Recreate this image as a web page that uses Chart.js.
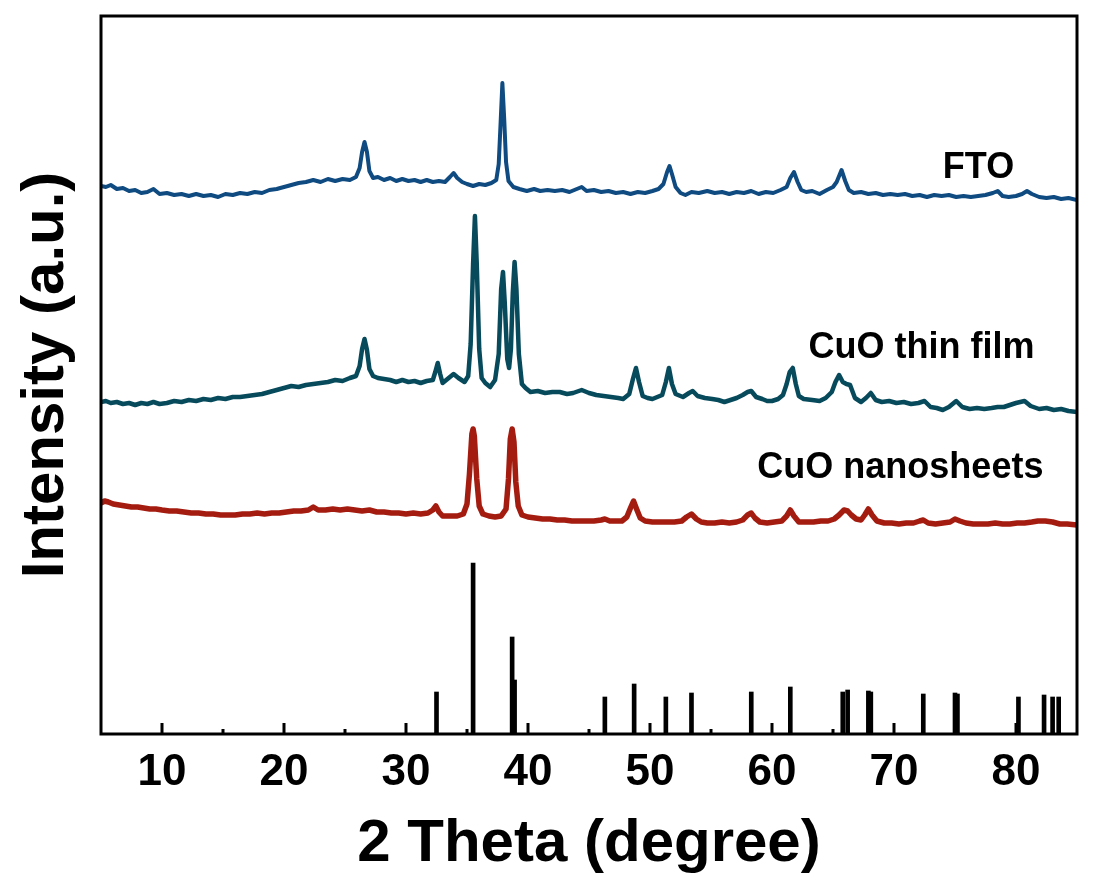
<!DOCTYPE html>
<html>
<head>
<meta charset="utf-8">
<script src="https://cdn.jsdelivr.net/npm/chart.js@4/dist/chart.umd.min.js"></script>
<style>
  html, body { margin: 0; padding: 0; background: #fff; }
  #xrdChart { display: block; }
</style>
</head>
<body>
<canvas id="xrdChart" width="1096" height="886"></canvas>
<script>
// values (2 theta in degree, intensity in a.u., curves already stacked)
const ftoTheta = [5.0,5.4,5.8,6.3,6.8,7.3,7.8,8.3,8.8,9.3,9.8,10.4,11.0,11.6,12.2,12.8,13.4,14.0,14.6,15.2,15.8,16.4,17.0,17.6,18.2,18.8,19.4,20.0,20.6,21.2,21.8,22.4,23.0,23.6,24.2,24.8,25.4,25.9,26.2,26.4,26.6,26.8,27.0,27.3,27.7,28.2,28.7,29.2,29.7,30.2,30.7,31.2,31.7,32.2,32.7,33.2,33.6,33.9,34.2,34.6,35.0,35.5,36.0,36.5,37.0,37.4,37.6,37.75,37.9,38.05,38.2,38.4,38.8,39.3,39.9,40.5,41.0,41.6,42.2,42.8,43.4,44.0,44.4,44.8,45.4,46.0,46.6,47.2,47.8,48.4,49.0,49.6,50.2,50.7,51.1,51.4,51.6,51.8,52.1,52.5,52.9,53.4,54.0,54.7,55.3,55.9,56.5,57.1,57.7,58.3,58.9,59.5,60.1,60.7,61.2,61.5,61.8,62.1,62.4,62.8,63.3,63.9,64.5,65.0,65.3,65.7,66.0,66.3,66.7,67.3,67.9,68.5,69.1,69.7,70.3,70.9,71.5,72.1,72.7,73.3,73.9,74.5,75.1,75.7,76.3,76.9,77.5,78.1,78.5,78.9,79.4,80.0,80.5,80.9,81.3,81.9,82.5,83.1,83.7,84.3,85.0];
const ftoCounts = [548,547,549,545,546,543,544,541,542,545,540,541,539,540,538,540,538,539,537,540,539,541,540,542,541,544,545,547,549,551,552,554,552,555,553,555,554,557,566,582,592,582,563,556,557,554,556,553,555,553,554,552,554,552,553,552,557,561,556,552,550,548,550,549,551,554,570,610,651,615,572,553,547,545,543,545,543,544,543,544,542,545,547,543,544,542,543,541,542,540,542,541,543,545,550,562,568,560,547,541,539,542,541,543,541,542,540,542,541,543,540,542,541,544,547,556,562,552,544,542,543,540,544,547,552,564,553,544,541,542,540,541,539,540,539,540,538,539,537,539,538,539,537,538,537,538,539,541,543,538,537,538,540,543,540,537,536,537,535,536,534];

const filmTheta = [5.0,5.4,5.8,6.3,6.8,7.3,7.8,8.3,8.8,9.3,9.8,10.4,11.0,11.6,12.2,12.8,13.4,14.0,14.6,15.2,15.8,16.4,17.0,17.6,18.2,18.8,19.4,20.0,20.6,21.2,21.8,22.4,23.0,23.6,24.2,24.8,25.4,25.9,26.2,26.4,26.6,26.8,27.0,27.3,27.7,28.2,28.7,29.2,29.7,30.2,30.7,31.2,31.7,32.2,32.4,32.6,32.8,33.0,33.4,33.9,34.3,34.8,35.1,35.3,35.5,35.65,35.8,36.0,36.2,36.5,36.9,37.3,37.6,37.8,37.95,38.1,38.3,38.45,38.6,38.75,38.9,39.05,39.25,39.5,39.8,40.2,40.8,41.4,42.0,42.6,43.2,43.7,44.4,45.0,45.6,46.2,46.8,47.4,47.8,48.3,48.6,48.85,49.1,49.4,49.8,50.2,50.6,51.0,51.3,51.55,51.8,52.1,52.7,53.2,53.5,53.9,54.5,55.1,55.6,56.1,56.6,57.1,57.6,58.0,58.3,58.7,59.2,59.6,60.0,60.5,60.9,61.2,61.45,61.7,61.95,62.2,62.6,63.3,63.9,64.4,64.9,65.2,65.5,65.8,66.1,66.4,66.8,67.3,67.7,68.1,68.5,69.0,69.6,70.2,70.8,71.4,72.0,72.5,73.0,73.5,74.0,74.5,75.1,75.6,76.2,76.8,77.4,78.0,78.5,79.0,79.5,80.0,80.7,81.2,81.9,82.5,83.1,83.7,84.3,85.0];
const filmCounts = [332,333,331,332,330,331,329,331,330,332,330,331,333,332,334,333,335,334,336,335,337,337,338,339,340,342,344,346,348,347,349,350,351,352,354,353,356,358,368,385,395,384,365,358,356,355,354,352,354,352,353,351,353,354,362,371,360,351,355,360,356,352,358,390,470,518,470,385,356,351,347,354,380,445,462,430,375,366,385,440,472,445,380,350,346,342,343,341,342,342,340,341,344,341,339,338,337,336,335,340,355,366,352,338,336,335,337,339,352,366,350,340,337,341,343,338,336,335,334,332,334,336,339,342,343,337,335,333,333,335,339,350,362,366,350,338,335,334,333,336,342,352,359,352,350,349,336,332,336,341,334,332,333,331,332,330,331,333,327,326,324,327,333,327,325,326,325,326,327,327,329,331,333,328,325,326,324,325,323,322];

const sheetTheta = [5.0,5.3,5.6,6.0,6.5,7.0,7.5,8.0,8.5,9.0,9.5,10.0,10.6,11.2,11.8,12.4,13.0,13.6,14.2,14.8,15.4,16.0,16.6,17.2,17.8,18.4,19.0,19.6,20.2,20.8,21.4,22.0,22.4,22.8,23.4,24.0,24.6,25.2,25.8,26.4,27.0,27.6,28.2,28.8,29.4,30.0,30.6,31.2,31.8,32.2,32.45,32.7,33.0,33.6,34.2,34.7,35.0,35.2,35.4,35.5,35.6,35.8,36.0,36.3,36.8,37.3,37.8,38.2,38.4,38.55,38.7,38.85,39.0,39.2,39.5,40.0,40.6,41.2,41.8,42.4,43.0,43.6,44.2,44.8,45.4,46.0,46.3,46.7,47.2,47.7,48.1,48.4,48.65,48.9,49.2,49.6,50.2,50.8,51.4,52.0,52.6,53.0,53.4,53.8,54.2,54.7,55.3,55.9,56.5,57.1,57.6,58.0,58.3,58.6,59.0,59.6,60.2,60.8,61.2,61.5,61.8,62.2,62.8,63.4,64.0,64.6,65.1,65.5,65.9,66.2,66.5,66.9,67.3,67.6,67.9,68.2,68.6,69.2,69.8,70.4,71.0,71.6,72.1,72.4,72.8,73.4,74.0,74.6,75.0,75.4,75.9,76.5,77.1,77.7,78.3,78.9,79.5,80.1,80.7,81.3,81.8,82.4,83.0,83.6,84.2,85.0];
const sheetCounts = [231,233,232,230,229,228,227,227,226,225,225,224,223,223,222,221,221,220,220,219,219,219,220,220,221,220,221,221,222,223,223,224,227,224,224,225,224,225,224,223,224,222,222,221,221,220,221,220,221,224,228,222,218,218,218,220,230,260,300,305,298,255,228,220,218,217,218,225,255,295,305,292,252,228,219,217,216,215,215,214,214,213,213,213,213,214,215,213,213,213,217,226,233,225,216,213,212,212,212,212,213,217,220,215,212,211,211,212,211,212,214,219,221,216,212,211,212,213,218,224,218,212,212,212,213,213,215,219,224,223,219,215,214,219,225,219,213,211,211,210,211,211,213,214,211,210,211,212,215,213,211,210,210,210,211,210,210,211,211,212,213,213,212,210,210,209];

// reference card (CuO) sticks
const refTheta = [32.5,35.5,38.7,38.9,46.3,48.7,51.3,53.4,58.3,61.5,65.8,66.2,67.9,68.1,72.4,75.0,75.2,80.2,82.3,83.0,83.5];
const refCounts = [42,171,97,54,37,50,37,41,42,47,42,44,43,42,40,41,40,37,39,37,37];

const xTickLabels = [10,20,30,40,50,60,70,80];
const xMajorTicks = [10,20,30,40,50,60,70,80];
const xMinorTicks = [15,25,35,45,55,65,75];

const seriesNames = ['FTO', 'CuO thin film', 'CuO nanosheets'];
const seriesColors = ['#0f4a80', '#064a5c', '#a41c10'];

const toPoints = (xs, ys) => xs.map((x, i) => ({ x: x, y: ys[i] }));

// where the curve names sit (data coordinates, text baseline left)
const nameSpots = [
    { x: 74.0, y: 556 },
    { x: 63.0, y: 376 },
    { x: 58.8, y: 256 }
];

const FONT = '"Liberation Sans", Arial, sans-serif';

const framePlugin = {
    id: 'frame',
    afterDatasetsDraw(chart) {
        const { ctx, chartArea: a, scales } = chart;
        ctx.save();
        ctx.strokeStyle = '#000';
        ctx.lineWidth = 3;
        ctx.strokeRect(a.left, a.top, a.right - a.left, a.bottom - a.top);
        // inward tick marks
        ctx.beginPath();
        xMajorTicks.forEach(v => {
            const px = scales.x.getPixelForValue(v);
            ctx.moveTo(px, a.bottom);
            ctx.lineTo(px, a.bottom - 11);
        });
        xMinorTicks.forEach(v => {
            const px = scales.x.getPixelForValue(v);
            ctx.moveTo(px, a.bottom);
            ctx.lineTo(px, a.bottom - 5);
        });
        ctx.stroke();
        // curve names
        ctx.fillStyle = '#000';
        ctx.font = 'bold 36px ' + FONT;
        ctx.textAlign = 'left';
        ctx.textBaseline = 'alphabetic';
        seriesNames.forEach((name, i) => {
            ctx.fillText(name, scales.x.getPixelForValue(nameSpots[i].x), scales.y.getPixelForValue(nameSpots[i].y));
        });
        ctx.restore();
    }
};

document.addEventListener("DOMContentLoaded", () => {
    const canvas = document.getElementById("xrdChart");
    const ctx = canvas.getContext("2d");

    new Chart(ctx, {
        type: "line",
        data: {
            datasets: [
                {
                    type: 'bar',
                    label: 'CuO reference',
                    data: toPoints(refTheta, refCounts),
                    backgroundColor: '#000',
                    barThickness: 4,
                    borderWidth: 0
                },
                {
                    label: seriesNames[2],
                    data: toPoints(sheetTheta, sheetCounts),
                    borderColor: seriesColors[2],
                    borderWidth: 5.5,
                    borderJoinStyle: 'round',
                    pointRadius: 0,
                    tension: 0,
                    fill: false
                },
                {
                    label: seriesNames[1],
                    data: toPoints(filmTheta, filmCounts),
                    borderColor: seriesColors[1],
                    borderWidth: 4.5,
                    borderJoinStyle: 'round',
                    pointRadius: 0,
                    tension: 0,
                    fill: false
                },
                {
                    label: seriesNames[0],
                    data: toPoints(ftoTheta, ftoCounts),
                    borderColor: seriesColors[0],
                    borderWidth: 4,
                    borderJoinStyle: 'round',
                    pointRadius: 0,
                    tension: 0,
                    fill: false
                }
            ]
        },
        options: {
            responsive: false,
            animation: false,
            devicePixelRatio: 1,
            layout: { padding: { top: 16, right: 19, left: 0, bottom: 0 } },
            plugins: {
                legend: { display: false },
                tooltip: { enabled: false }
            },
            scales: {
                x: {
                    type: 'linear',
                    min: 5,
                    max: 85,
                    offset: false,
                    afterBuildTicks: s => { s.ticks = xTickLabels.map(v => ({ value: v })); },
                    afterFit: s => { s.height = 152; },
                    grid: { display: false, drawTicks: false },
                    border: { display: false },
                    ticks: {
                        color: '#000',
                        font: { family: FONT, size: 44, weight: 'bold' },
                        padding: 12,
                        maxRotation: 0,
                        autoSkip: false
                    },
                    title: {
                        display: true,
                        text: '2 Theta (degree)',
                        color: '#000',
                        font: { family: FONT, size: 60, weight: 'bold' },
                        padding: { top: 0, bottom: 6 }
                    }
                },
                y: {
                    type: 'linear',
                    min: 0,
                    max: 718,
                    afterFit: s => { s.width = 101; },
                    grid: { display: false, drawTicks: false },
                    border: { display: false },
                    ticks: { display: false },
                    title: {
                        display: true,
                        text: 'Intensity (a.u.)',
                        color: '#000',
                        font: { family: FONT, size: 60, weight: 'bold' },
                        padding: { top: 10, bottom: 0 }
                    }
                }
            }
        },
        plugins: [framePlugin]
    });
});
</script>
</body>
</html>
